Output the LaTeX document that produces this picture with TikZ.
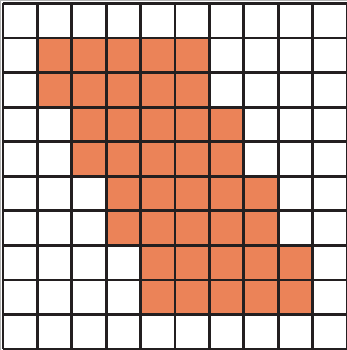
\documentclass[tikz,border=0pt]{standalone}
\definecolor{cellfill}{HTML}{EB8358}
\definecolor{gridline}{HTML}{231F20}
\begin{document}
\begin{tikzpicture}[x=1pt,y=-1pt,
  cell/.style={fill=cellfill,draw=none},
  gridl/.style={draw=gridline,line width=2.8pt}]
\useasboundingbox (0,0) rectangle (347,350);
\fill[white] (0,0) rectangle (347,350);
\def\ox{3}\def\oy{3.5}\def\cw{34.4}\def\ch{34.55}
% filled cells: row : first col
\foreach \r/\c in {1/1,2/1,3/2,4/2,5/3,6/3,7/4,8/4}{
  \foreach \k in {0,...,4}{
    \fill[cell] ({\ox+(\c+\k)*\cw},{\oy+\r*\ch}) rectangle ({\ox+(\c+\k+1)*\cw},{\oy+(\r+1)*\ch});
  }
}
\foreach \i in {0,...,10}{
  \draw[gridl] ({\ox+\i*\cw},\oy) -- ({\ox+\i*\cw},{\oy+10*\ch});
  \draw[gridl] (\ox,{\oy+\i*\ch}) -- ({\ox+10*\cw},{\oy+\i*\ch});
}
\draw[gray!60,line width=0.8pt] (0.8,350) -- (0.8,0.8) -- (347,0.8);
\end{tikzpicture}
\end{document}
